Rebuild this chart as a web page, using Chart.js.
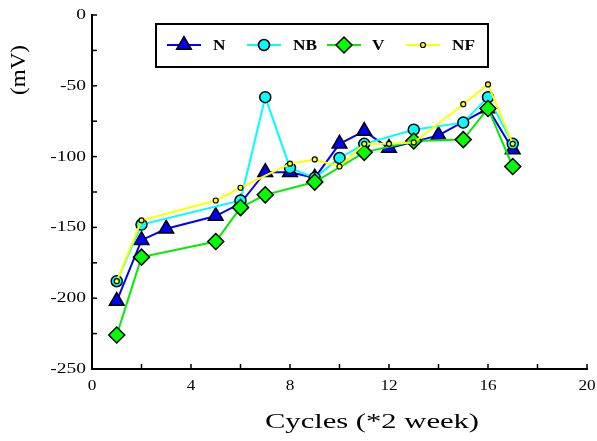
<!DOCTYPE html>
<html>
<head>
<meta charset="utf-8">
<script src="https://cdn.jsdelivr.net/npm/chart.js@4/dist/chart.umd.min.js"></script>
<style>
  html, body { margin: 0; padding: 0; background: #fff; }
  #wrap { width: 597px; height: 441px; }
</style>
</head>
<body>
<div id="wrap"><canvas id="chart"></canvas></div>
<script>
// data
const nCycles = [1, 2, 3, 5, 6, 7, 8, 9, 10, 11, 12, 14, 16, 17];
const nValues = [-202, -159, -151, -142, -133, -111, -111, -115, -91, -82, -94, -85, -66, -95];

const nbCycles = [1, 2, 6, 7, 8, 9, 10, 11, 13, 15, 16, 17];
const nbValues = [-188, -148, -131, -58, -108, -115, -101, -91, -81, -76, -58, -91];

const vCycles = [1, 2, 5, 6, 7, 9, 11, 13, 15, 16, 17];
const vValues = [-226, -171, -160, -136, -127, -118, -97, -89, -88, -66, -107];

const nfCycles = [1, 2, 5, 6, 8, 9, 10, 11, 12, 13, 15, 16, 17];
const nfValues = [-188, -145, -131, -122, -105, -102, -107, -91, -91, -90, -63, -49, -91];

const xTickLabels = [0, 4, 8, 12, 16, 20];
const yTickLabels = [0, -50, -100, -150, -200, -250];

const xTitle = "Cycles (*2 week)";
const yTitle = "(mV)";

function pts(xs, ys) {
  return xs.map((x, i) => ({ x: x, y: ys[i] }));
}

const serif = '"Liberation Serif", "Times New Roman", serif';

// stretched text, like the original export
function stretchText(ctx, text, x, y, sx, align) {
  ctx.save();
  ctx.translate(x, y);
  ctx.scale(sx, 1);
  ctx.textAlign = align;
  ctx.fillText(text, 0, 0);
  ctx.restore();
}

const decorations = {
  id: "decorations",
  beforeDraw(chart) {
    const ctx = chart.ctx;
    ctx.save();
    ctx.fillStyle = "#fff";
    ctx.fillRect(0, 0, chart.width, chart.height);
    ctx.restore();
  },
  afterDraw(chart) {
    const ctx = chart.ctx;
    const xs = chart.scales.x;
    const ys = chart.scales.y;
    const area = chart.chartArea;
    ctx.save();
    ctx.strokeStyle = "#000";
    ctx.lineWidth = 1.5;

    // inward ticks
    for (let v = 0; v <= 20; v += 2) {
      const px = xs.getPixelForValue(v);
      ctx.beginPath();
      ctx.moveTo(px, area.bottom);
      ctx.lineTo(px, area.bottom - 5);
      ctx.stroke();
    }
    for (let v = 0; v >= -250; v -= 25) {
      const py = ys.getPixelForValue(v);
      ctx.beginPath();
      ctx.moveTo(area.left, py);
      ctx.lineTo(area.left + 5, py);
      ctx.stroke();
    }

    // tick labels
    ctx.fillStyle = "#000";
    ctx.font = "15px " + serif;
    ctx.textBaseline = "middle";
    xTickLabels.forEach(v => {
      stretchText(ctx, String(v), xs.getPixelForValue(v), area.bottom + 17, 1.15, "center");
    });
    yTickLabels.forEach(v => {
      stretchText(ctx, String(v), area.left - 6, ys.getPixelForValue(v), 1.3, "right");
    });

    // axis titles
    ctx.font = "20px " + serif;
    stretchText(ctx, xTitle, 372, 423, 1.53, "center");
    ctx.save();
    ctx.translate(19, 70);
    ctx.rotate(-Math.PI / 2);
    ctx.font = "21px " + serif;
    stretchText(ctx, yTitle, 0, 0, 1.1, "center");
    ctx.restore();

    // legend box
    const box = { left: 156, top: 24, right: 488, bottom: 67 };
    ctx.fillStyle = "#fff";
    ctx.fillRect(box.left, box.top, box.right - box.left, box.bottom - box.top);
    ctx.lineWidth = 2;
    ctx.strokeRect(box.left, box.top, box.right - box.left, box.bottom - box.top);

    const entries = [
      { ds: 0, x0: 167, text: 213 },
      { ds: 1, x0: 247, text: 293 },
      { ds: 2, x0: 327, text: 372 },
      { ds: 3, x0: 406, text: 452 }
    ];
    const ly = 45;
    entries.forEach(e => {
      const d = chart.data.datasets[e.ds];
      ctx.strokeStyle = d.borderColor;
      ctx.lineWidth = 2;
      ctx.beginPath();
      ctx.moveTo(e.x0, ly);
      ctx.lineTo(e.x0 + 34, ly);
      ctx.stroke();
      ctx.fillStyle = d.pointBackgroundColor;
      ctx.strokeStyle = d.pointBorderColor;
      ctx.lineWidth = d.pointBorderWidth;
      Chart.helpers.drawPoint(ctx, { pointStyle: d.pointStyle, radius: d.pointRadius, borderWidth: d.pointBorderWidth }, e.x0 + 17, ly);
      ctx.fillStyle = "#000";
      ctx.font = "bold 15px " + serif;
      ctx.textBaseline = "middle";
      stretchText(ctx, d.label, e.text, ly + 1, 1.15, "left");
    });
    ctx.restore();
  }
};

new Chart(document.getElementById("chart"), {
  type: "scatter",
  data: {
    datasets: [
      {
        label: "N",
        data: pts(nCycles, nValues),
        showLine: true,
        borderColor: "#0000ff",
        borderWidth: 2,
        pointStyle: "triangle",
        pointRadius: 8.5,
        pointBackgroundColor: "#0000ff",
        pointBorderColor: "#000",
        pointBorderWidth: 1.5,
        order: 4
      },
      {
        label: "NB",
        data: pts(nbCycles, nbValues),
        showLine: true,
        borderColor: "#00ffff",
        borderWidth: 2,
        pointStyle: "circle",
        pointRadius: 5.5,
        pointBackgroundColor: "#00ffff",
        pointBorderColor: "#000",
        pointBorderWidth: 1.5,
        order: 3
      },
      {
        label: "V",
        data: pts(vCycles, vValues),
        showLine: true,
        borderColor: "#00ee00",
        borderWidth: 2,
        pointStyle: "rectRot",
        pointRadius: 8,
        pointBackgroundColor: "#00ff00",
        pointBorderColor: "#000",
        pointBorderWidth: 1.5,
        order: 2
      },
      {
        label: "NF",
        data: pts(nfCycles, nfValues),
        showLine: true,
        borderColor: "#ffff00",
        borderWidth: 2,
        pointStyle: "circle",
        pointRadius: 2.5,
        pointBackgroundColor: "#ffff00",
        pointBorderColor: "#000",
        pointBorderWidth: 1.2,
        order: 1
      }
    ]
  },
  options: {
    responsive: true,
    maintainAspectRatio: false,
    animation: false,
    layout: { padding: { left: 84, right: 9, top: 15, bottom: 64 } },
    plugins: {
      legend: { display: false },
      tooltip: { enabled: false }
    },
    scales: {
      x: {
        type: "linear",
        min: 0,
        max: 20,
        ticks: { display: false },
        grid: { display: false },
        border: { display: true, color: "#000", width: 2 }
      },
      y: {
        type: "linear",
        min: -250,
        max: 0,
        ticks: { display: false },
        grid: { display: false },
        border: { display: true, color: "#000", width: 2 }
      }
    }
  },
  plugins: [decorations]
});
</script>
</body>
</html>
